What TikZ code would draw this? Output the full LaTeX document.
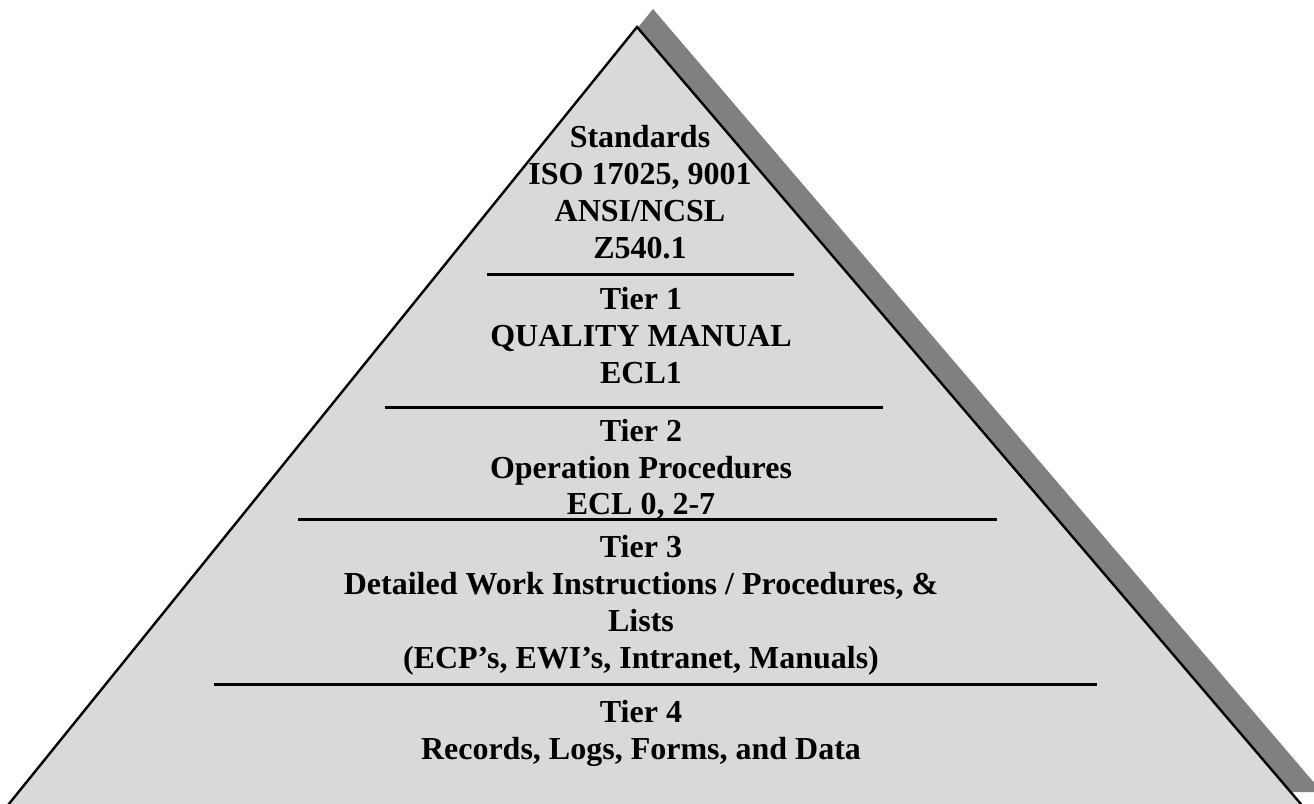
\documentclass[tikz,border=0pt]{standalone}
\usepackage{fontspec}
\setmainfont{Liberation Serif}
\tikzset{
  pyr/.style={fill=pyrfill, draw=black, line width=2.4pt, line join=miter},
  shade/.style={fill=pyrshadow, draw=none},
  divider/.style={draw=black, line width=3pt},
  lbl/.style={anchor=base, inner sep=0pt, font=\fontsize{32}{37}\selectfont\bfseries}
}
\definecolor{pyrfill}{HTML}{D9D9D9}
\definecolor{pyrshadow}{HTML}{808080}
\begin{document}
\begin{tikzpicture}[x=1pt,y=-1pt]
\useasboundingbox (0,0) rectangle (1314,803);
\clip (0,0) rectangle (1314,803);
% apex and base corners
\coordinate (A) at (637,27);
\coordinate (BL) at (4,810);
\coordinate (BR) at (1306,810);
% shadow
\fill[shade] ([shift={(16,-18)}]A) -- ([shift={(16,-18)}]BR) -- ([shift={(16,-18)}]BL) -- cycle;
% pyramid
\draw[pyr] (A) -- (BR) -- (BL) -- cycle;
% dividers
\coordinate (d1l) at (487,274); \coordinate (d1r) at (794,274);
\coordinate (d2l) at (385,407); \coordinate (d2r) at (883,407);
\coordinate (d3l) at (298,519); \coordinate (d3r) at (997,519);
\coordinate (d4l) at (214,684); \coordinate (d4r) at (1097,684);
\draw[divider] (d1l) -- (d1r);
\draw[divider] (d2l) -- (d2r);
\draw[divider] (d3l) -- (d3r);
\draw[divider] (d4l) -- (d4r);
% texts
\node[lbl] (s1) at (640,147) {Standards};
\node[lbl] (s2) at (640,184) {ISO 17025, 9001};
\node[lbl] (s3) at (640,221) {ANSI/NCSL};
\node[lbl] (s4) at (640,258) {Z540.1};
\node[lbl] (t1a) at (641,309) {Tier 1};
\node[lbl] (t1b) at (641,346) {QUALITY MANUAL};
\node[lbl] (t1c) at (641,383) {ECL1};
\node[lbl] (t2a) at (641,441) {Tier 2};
\node[lbl] (t2b) at (641,478) {Operation Procedures};
\node[lbl] (t2c) at (641,514) {ECL 0, 2-7};
\node[lbl] (t3a) at (641,557) {Tier 3};
\node[lbl] (t3b) at (641,594) {Detailed Work Instructions / Procedures, \&};
\node[lbl] (t3c) at (641,631) {Lists};
\node[lbl] (t3d) at (641,668) {(ECP’s, EWI’s, Intranet, Manuals)};
\node[lbl] (t4a) at (641,722) {Tier 4};
\node[lbl] (t4b) at (641,759) {Records, Logs, Forms, and Data};
\end{tikzpicture}
\end{document}
